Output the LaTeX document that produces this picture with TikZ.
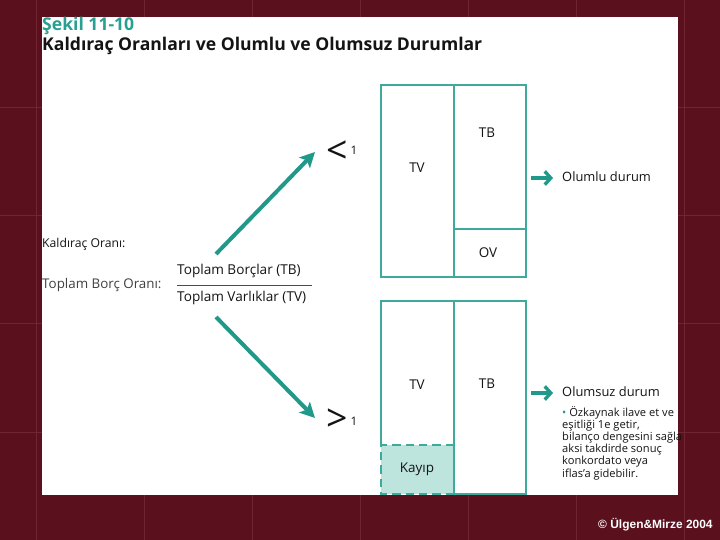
\documentclass[tikz,border=0pt]{standalone}
\usepackage{fontspec}
\setmainfont{Open Sans}
\newfontfamily\cfont{Liberation Sans}
\usetikzlibrary{arrows.meta}
\definecolor{bg}{RGB}{90,16,29}
\definecolor{gridc}{RGB}{112,38,50}
\definecolor{teal1}{RGB}{33,153,138}
\definecolor{tealbox}{RGB}{62,170,155}
\definecolor{kayipc}{RGB}{190,228,222}
\definecolor{titleteal}{RGB}{40,160,145}
\definecolor{txt}{RGB}{20,20,20}
\tikzset{
  lbl/.style={inner sep=0pt, text=txt, font=\fontsize{11.5}{13}\selectfont},
  lw/.style={inner sep=0pt, anchor=base west, text=txt},
  cell/.style={draw=tealbox, line width=0.06cm},
  bigarrow/.style={draw=teal1, line width=0.12cm, -{Stealth[length=0.45cm,width=0.45cm,inset=0.1cm]}},
  smallarrow/.style={draw=teal1, line width=0.1cm, -{Straight Barb[length=0.18cm,width=0.4cm,line width=0.1cm]}},
}
\begin{document}
\begin{tikzpicture}[x=0.03cm,y=-0.03cm]
\useasboundingbox (0,0) rectangle (720,540);
\fill[bg] (0,0) rectangle (720,540);
\foreach \x in {36,144,252,360,468,576,684} \draw[gridc, line width=0.03cm] (\x,0) -- (\x,540);
\foreach \y in {108,216,324,432} \draw[gridc, line width=0.03cm] (0,\y) -- (720,\y);
\fill[white] (42,17) rectangle (678,495);

% titles
\node[lw, text=titleteal, font=\fontsize{15}{17}\bfseries\selectfont] (t1) at (42,31) {Şekil 11-10};
\node[lw, font=\fontsize{15}{17}\bfseries\selectfont] (t2) at (42,51) {Kaldıraç Oranları ve Olumlu ve Olumsuz Durumlar};

% left labels
\node[lw, font=\fontsize{10.4}{12}\selectfont] (ko) at (42,248) {Kaldıraç Oranı:};
\node[lw, text=black!75, font=\fontsize{11.4}{13}\selectfont] (tbo) at (42,289) {Toplam Borç Oranı:};
\node[lw, font=\fontsize{11.6}{13}\selectfont] (num) at (177,275) {Toplam Borçlar (TB)};
\node[lw, font=\fontsize{11.6}{13}\selectfont] (den) at (177,302) {Toplam Varlıklar (TV)};
\draw[black!70, line width=0.03cm] (177,286) -- (312,286);

% comparison symbols
\node[lbl, font=\fontsize{32}{32}\selectfont] (lt) at (337,152) {<};
\node[lbl, font=\fontsize{10}{10}\selectfont] (lt1) at (354,150) {1};
\node[lbl, font=\fontsize{32}{32}\selectfont] (gt) at (337,420) {>};
\node[lbl, font=\fontsize{10}{10}\selectfont] (gt1) at (354,421) {1};

\coordinate (a1s) at (216,254);
\coordinate (a1e) at (315,152);
\coordinate (a2s) at (216,317);
\coordinate (a2e) at (315,418);
\draw[bigarrow] (a1s) -- (a1e);
\draw[bigarrow] (a2s) -- (a2e);

% upper box
\draw[cell] (381,85) rectangle (526,277);
\draw[cell] (454,85) -- (454,277);
\draw[cell] (454,229) -- (526,229);
\node[lbl] (uTV) at (417,168) {TV};
\node[lbl] (uTB) at (487,133) {TB};
\node[lbl] (uOV) at (488,253) {OV};

% lower box
\fill[kayipc] (381,445) rectangle (454,494);
\draw[cell] (381,445) -- (381,301) -- (526,301) -- (526,494) -- (454,494);
\draw[cell] (454,301) -- (454,494);
\draw[cell, dashed, dash pattern=on 0.25cm off 0.15cm] (454,445) -- (381,445) -- (381,494) -- (454,494);
\node[lbl] (lTV) at (417,385) {TV};
\node[lbl] (lTB) at (487,384) {TB};
\node[lbl] (kay) at (417,469) {Kayıp};

% right side
\coordinate (r1s) at (531,178);
\coordinate (r1e) at (553,178);
\coordinate (r2s) at (531,393);
\coordinate (r2e) at (553,393);
\draw[smallarrow] (r1s) -- (r1e);
\draw[smallarrow] (r2s) -- (r2e);
\node[lw, font=\fontsize{11}{13}\selectfont] (olumlu) at (562,182) {Olumlu durum};
\node[lw, font=\fontsize{11}{13}\selectfont] (olumsuz) at (562,397) {Olumsuz durum};
\node[lw, align=left, font=\fontsize{9.5}{10.25}\selectfont] (bul) at (562,477)
 {{\color{teal1}•} Özkaynak ilave et ve\\eşitliği 1e getir,\\bilanço dengesini sağla\\aksi takdirde sonuç\\konkordato veya\\iflas’a gidebilir.};

% copyright
\node[lw, text=white, font=\cfont\bfseries\fontsize{10.2}{11}\selectfont] (copy) at (598,528) {© Ülgen\&Mirze 2004};
\end{tikzpicture}
\end{document}
